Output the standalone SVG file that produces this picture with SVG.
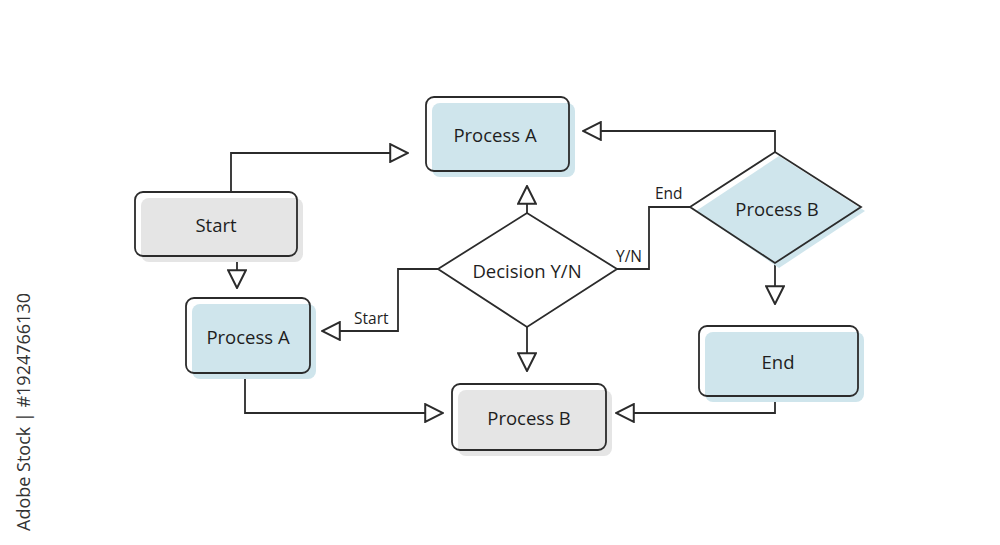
<svg xmlns="http://www.w3.org/2000/svg" width="1000" height="545" viewBox="0 0 1000 545">
<style>
.bg{fill:#ffffff}
.blue{fill:#cfe5ec}
.gray{fill:#e5e5e5}
.box{fill:none;stroke:#2b2b2b;stroke-width:1.8}
.dia{fill:none;stroke:#2b2b2b;stroke-width:1.8;stroke-linejoin:miter}
.t{font-family:"Open Sans","Noto Sans",sans-serif;font-size:18.5px;fill:#1e1e1e;text-anchor:middle;dominant-baseline:central}
.lbl{font-family:"Open Sans","Noto Sans",sans-serif;font-size:15.5px;fill:#1e1e1e}
.c{fill:none;stroke:#2b2b2b;stroke-width:1.8;marker-end:url(#arr)}
.wm{font-family:"Open Sans","Noto Sans",sans-serif;font-size:18px;fill:#333}
</style>
<defs>
<marker id="arr" markerUnits="userSpaceOnUse" markerWidth="20" markerHeight="20" viewBox="-1 -1 18 18" refX="16" refY="8" orient="auto">
<path d="M0,0 L16,8 L0,16 Z" fill="#ffffff" stroke="#2b2b2b" stroke-width="1.8" stroke-linejoin="miter"/>
</marker>
</defs>
<rect class="bg" x="0" y="0" width="1000" height="545"/>
<g id="connectors">
<path class="c" d="M231,192 V153 H408"/>
<path class="c" d="M237,256 V288"/>
<path class="c" d="M527,213 V186"/>
<path class="c" d="M527,327 V371"/>
<path class="c" d="M438,269 H398 V331 H322"/>
<path class="c" d="M617,269 H649 V207 H690" style="marker-end:none"/>
<path class="c" d="M775,152 V131 H583"/>
<path class="c" d="M775,263 V304"/>
<path class="c" d="M775,396 V413 H616"/>
<path class="c" d="M245,373 V413 H443"/>
<text class="lbl" x="354" y="324">Start</text>
<text class="lbl" x="616" y="262">Y/N</text>
<text class="lbl" x="655" y="199">End</text>
</g>
<g id="processA-top">
<rect class="blue" x="432" y="103" width="143" height="74" rx="8"/>
<rect class="box" x="426" y="97" width="143" height="74" rx="8"/>
<text class="t" x="495" y="134">Process A</text>
</g>
<g id="start">
<rect class="gray" x="141" y="198" width="162" height="64" rx="8"/>
<rect class="box" x="135" y="192" width="162" height="64" rx="8"/>
<text class="t" x="216" y="224">Start</text>
</g>
<g id="processA-left">
<rect class="blue" x="192" y="304" width="124" height="75" rx="8"/>
<rect class="box" x="186" y="298" width="124" height="75" rx="8"/>
<text class="t" x="248" y="336">Process A</text>
</g>
<g id="decision">
<polygon points="438,269 527,213 617,269 527,327" fill="#ffffff" stroke="none"/>
<polygon class="dia" points="438,269 527,213 617,269 527,327"/>
<text class="t" x="527" y="270">Decision Y/N</text>
</g>
<g id="processB-diamond">
<polygon class="blue" points="696,211 779,156 865,211 779,268"/>
<polygon class="dia" points="690,207 775,152 861,207 775,263"/>
<text class="t" x="777" y="208">Process B</text>
</g>
<g id="processB">
<rect class="gray" x="458" y="390" width="154" height="66" rx="8"/>
<rect class="box" x="452" y="384" width="154" height="66" rx="8"/>
<text class="t" x="529" y="417">Process B</text>
</g>
<g id="end">
<rect class="blue" x="705" y="332" width="159" height="70" rx="8"/>
<rect class="box" x="699" y="326" width="159" height="70" rx="8"/>
<text class="t" x="778" y="361">End</text>
</g>
<text class="wm" transform="translate(30,531) rotate(-90)">Adobe Stock | #1924766130</text>
</svg>
